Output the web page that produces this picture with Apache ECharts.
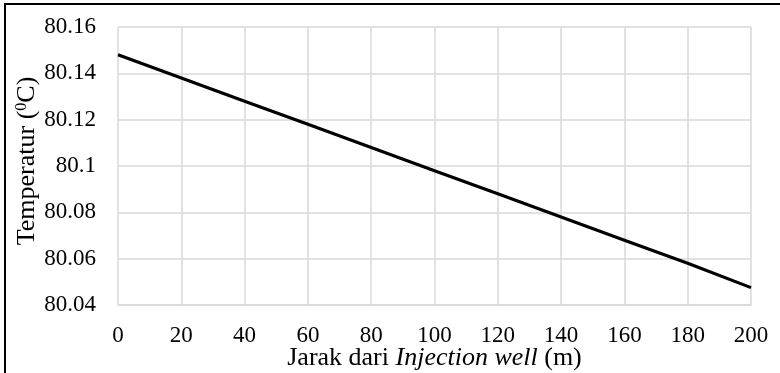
<!DOCTYPE html>
<html>
<head>
<meta charset="utf-8">
<script src="https://cdn.jsdelivr.net/npm/echarts@6/dist/echarts.min.js"></script>
<style>
  html, body { margin: 0; padding: 0; background: #fff; }
  #chart { width: 780px; height: 373px; }
</style>
</head>
<body>
<div id="chart"></div>
<script>
// Distance from the injection well (m)
const distance = [0, 20, 40, 60, 80, 100, 120, 140, 160, 180, 200];
// Temperature along the line (°C)
const temperature = [80.148, 80.138, 80.128, 80.118, 80.108, 80.098, 80.088, 80.078, 80.068, 80.058, 80.0475];

const serif = '"Liberation Serif", "Times New Roman", serif';
const gridColor = '#d9d9d9';

const chart = echarts.init(document.getElementById('chart'));
chart.setOption({
  backgroundColor: '#fff',
  animation: false,
  grid: { left: 118, right: 29, top: 27, bottom: 68, outerBoundsMode: 'none', containLabel: false },
  xAxis: {
    type: 'value',
    min: 0, max: 200, interval: 20,
    name: '{n|Jarak dari }{i|Injection well}{n| (m)}',
    nameLocation: 'middle',
    nameGap: 40,
    nameMoveOverlap: false,
    nameTextStyle: {
      rich: {
        n: { fontFamily: serif, fontSize: 26, color: '#000' },
        i: { fontFamily: serif, fontSize: 26, fontStyle: 'italic', color: '#000' }
      }
    },
    axisLine: { show: true, lineStyle: { color: gridColor, width: 1.5 } },
    axisTick: { show: false },
    splitLine: { show: true, lineStyle: { color: gridColor, width: 1.5 } },
    axisLabel: { fontFamily: serif, fontSize: 23, color: '#000', margin: 19 }
  },
  yAxis: {
    type: 'value',
    min: 80.04, max: 80.16, interval: 0.02,
    axisLine: { show: false },
    axisTick: { show: false },
    splitLine: { show: true, lineStyle: { color: gridColor, width: 1.5 } },
    axisLabel: {
      fontFamily: serif, fontSize: 23, color: '#000', margin: 22,
      formatter: v => String(Number(v.toFixed(4)))
    }
  },
  series: [{
    type: 'line',
    data: distance.map((d, i) => [d, temperature[i]]),
    showSymbol: false,
    lineStyle: { color: '#000', width: 3.2 },
    silent: true
  }],
  graphic: [
    {
      type: 'rect',
      shape: { x: 5, y: 4, width: 800, height: 400 },
      style: { fill: 'none', stroke: '#000', lineWidth: 2 },
      silent: true
    },
    {
      type: 'text',
      x: 27, y: 161,
      rotation: Math.PI / 2,
      style: {
        text: '{n|Temperatur (}{s|0}{n|C)}',
        align: 'center',
        verticalAlign: 'middle',
        rich: {
          n: { fontFamily: serif, fontSize: 26, fill: '#000' },
          s: { fontFamily: serif, fontSize: 16, fill: '#000', verticalAlign: 'top', padding: [0, 0, 10, 0] }
        }
      },
      silent: true
    }
  ]
});
</script>
</body>
</html>
